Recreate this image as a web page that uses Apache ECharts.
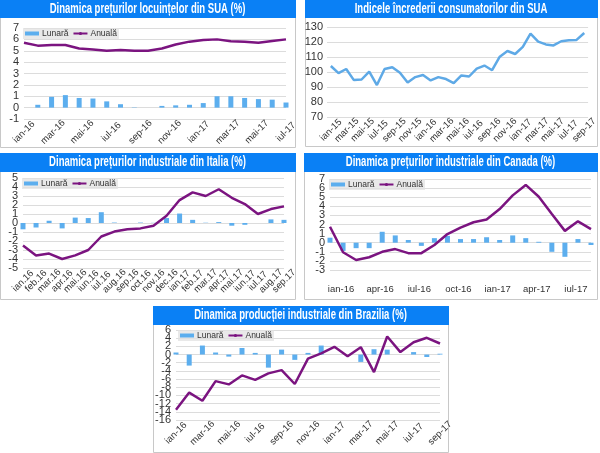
<!DOCTYPE html>
<html>
<head>
<meta charset="utf-8">
<title>Dinamica</title>
<script src="https://cdn.jsdelivr.net/npm/echarts@6/dist/echarts.min.js"></script>
<style>
html,body{margin:0;padding:0;background:#fff;}
#chart{width:600px;height:453px;}
</style>
</head>
<body>
<div id="chart"></div>
<script>
// SUA locuinte
var casePoints = ['ian-16','feb-16','mar-16','apr-16','mai-16','iun-16','iul-16','aug-16','sep-16','oct-16','nov-16','dec-16','ian-17','feb-17','mar-17','apr-17','mai-17','iun-17','iul-17','aug-17'];
var caseTicks = ['ian-16','feb-16','mar-16','apr-16','mai-16','iun-16','iul-16','aug-16','sep-16','oct-16','nov-16','dec-16','ian-17','feb-17','mar-17','apr-17','mai-17','iun-17','iul-17'];
var caseLunara = [0,0.25,0.95,1.1,0.85,0.8,0.55,0.3,0.03,0,0.15,0.2,0.25,0.4,1.0,1.0,0.85,0.75,0.7,0.45];
var caseAnuala = [5.7,5.45,5.5,5.5,5.2,5.1,5.0,5.07,5.0,5.0,5.2,5.55,5.8,5.95,6.0,5.83,5.8,5.7,5.85,6.0];

// SUA incredere
var confPoints = ['ian-15','feb-15','mar-15','apr-15','mai-15','iun-15','iul-15','aug-15','sep-15','oct-15','nov-15','dec-15','ian-16','feb-16','mar-16','apr-16','mai-16','iun-16','iul-16','aug-16','sep-16','oct-16','nov-16','dec-16','ian-17','feb-17','mar-17','apr-17','mai-17','iun-17','iul-17','aug-17','sep-17','oct-17'];
var confTicks = ['ian-15','feb-15','mar-15','apr-15','mai-15','iun-15','iul-15','aug-15','sep-15','oct-15','nov-15','dec-15','ian-16','feb-16','mar-16','apr-16','mai-16','iun-16','iul-16','aug-16','sep-16','oct-16','nov-16','dec-16','ian-17','feb-17','mar-17','apr-17','mai-17','iun-17','iul-17','aug-17','sep-17'];
var confIndice = [104,99.2,102,94.6,95,100.3,91.3,102,103.2,99.5,93,96.6,98,94.4,96.6,95.3,92.6,97.7,97,102.3,104.3,101.2,110.2,114,112,116.8,125.6,120.3,118.4,117.7,120.5,121.2,121.4,126];

// Italia
var itLuni = ['ian.16','feb.16','mar.16','apr.16','mai.16','iun.16','iul.16','aug.16','sep.16','oct.16','nov.16','dec.16','ian.17','feb.17','mar.17','apr.17','mai.17','iun.17','iul.17','aug.17','sep.17'];
var itLunara = [-0.7,-0.5,0.25,-0.6,0.6,0.55,1.2,0.05,0,0.05,0.02,0.55,1.05,0.35,0.03,0.1,-0.3,-0.2,0,0.4,0.35];
var itAnuala = [-2.5,-3.6,-3.4,-4.0,-3.6,-3.0,-1.5,-0.95,-0.7,-0.6,-0.3,0.8,2.55,3.4,3.0,3.75,2.8,2.1,1.0,1.55,1.85];

// Canada si Brazilia au aceleasi luni
var luni = ['ian-16','feb-16','mar-16','apr-16','mai-16','iun-16','iul-16','aug-16','sep-16','oct-16','nov-16','dec-16','ian-17','feb-17','mar-17','apr-17','mai-17','iun-17','iul-17','aug-17','sep-17'];
var caLunara = [0.55,-0.9,-0.6,-0.6,1.2,0.8,0.3,-0.35,0.5,0.75,0.4,0.4,0.6,0.3,0.8,0.5,0.1,-1.0,-1.55,0.4,-0.25];
var caAnuala = [1.75,-1.05,-1.9,-1.6,-1.0,-0.7,-1.15,-1.15,-0.25,0.95,1.65,2.25,2.55,3.7,5.2,6.35,5.05,3.15,1.3,2.35,1.5];

var brLunara = [0.5,-2.7,2.2,0.5,-0.5,1.6,0.4,-3.2,1.2,-1.3,0.4,2.2,0,0,-1.8,1.3,1.2,0,0.6,-0.6,0.2];
var brAnuala = [-13.5,-9.3,-11.3,-6.5,-7.3,-5.1,-6.2,-4.6,-3.8,-7.2,-1,0.3,1.9,-0.4,1.8,-4.3,4.4,0.6,3.0,4.1,2.7];

var panouri = [
  {x:0,y:0,w:295,h:147,bar:18,title:'Dinamica prețurilor locuințelor din SUA (%)',sx:0.68,grid:[24,28,286,119],min:-1,max:7,step:1,legend:[23,28]},
  {x:305,y:0,w:292,h:146,bar:18,title:'Indicele încrederii consumatorilor din SUA',sx:0.68,grid:[327,27,592,117],min:70,max:130,step:10},
  {x:0,y:153,w:295,h:146,bar:19,title:'Dinamica prețurilor industriale din Italia (%)',sx:0.68,grid:[23,178,284,268],min:-5,max:5,step:1,legend:[22,178]},
  {x:304,y:153,w:293,h:146,bar:19,title:'Dinamica prețurilor industriale din Canada (%)',sx:0.68,grid:[330,179,591,270],min:-3,max:7,step:1,legend:[329,179]},
  {x:153,y:306,w:295,h:146,bar:19,title:'Dinamica producției industriale din Brazilia (%)',sx:0.68,grid:[176,330,440,420],min:-16,max:6,step:2,legend:[178,330]}
];

var ALBASTRU = '#5caeee', MOV = '#7b1480', FONT = '"Liberation Sans", Arial, sans-serif';

var graphic = [], grids = [], xAxes = [], yAxes = [], legends = [], series = [];
var axePeste = [];

function axaY(p, i, valori, cuLinii) {
  return {
    type:'value', gridIndex:i, position:'left', min:p.min, max:p.max, interval:p.step,
    axisLine:{show:false}, axisTick:{show:false},
    axisLabel:{customValues:valori,color:'#333',fontFamily:FONT,fontSize:11,margin:i==1?4:5,showMinLabel:true,showMaxLabel:true,hideOverlap:false},
    splitLine:{show:cuLinii,lineStyle:{color:'#dcdcdc',width:1}}
  };
}

panouri.forEach(function (p, i) {
  graphic.push({type:'rect', z:-10, shape:{x:p.x+0.5,y:p.y+0.5,width:p.w,height:p.h}, style:{fill:'#fff',stroke:'#c8c8c8',lineWidth:1}});
  graphic.push({type:'rect', z:-9, shape:{x:p.x,y:p.y,width:p.w+1,height:p.bar}, style:{fill:'#0a80f5'}});
  // titlul e strans pe orizontala, nu exista font narrow instalat
  graphic.push({
    type:'text', z:10, x:p.x+p.w/2, y:p.y+p.bar/2, scaleX:p.sx,
    style:{text:p.title,fill:'#fff',font:'bold 14px "Liberation Sans"',textAlign:'center',textVerticalAlign:'middle'}
  });
  grids.push({left:p.grid[0],top:p.grid[1],width:p.grid[2]-p.grid[0],height:p.grid[3]-p.grid[1]});
  // echarts ascunde eticheta de langa capete cand sunt apropiate,
  // asa ca a doua si penultima merg pe o axa separata
  var vecini = [p.min+p.step, p.max-p.step];
  var restul = [];
  for (var v = p.min; v <= p.max; v += p.step) {
    if (vecini.indexOf(v) < 0) restul.push(v);
  }
  yAxes.push(axaY(p, i, restul, true));
  axePeste.push(axaY(p, i, vecini, false));
  if (p.legend) {
    legends.push({
      left:p.legend[0], top:p.legend[1], padding:[1,2], itemGap:4, itemWidth:14, itemHeight:4,
      backgroundColor:'rgba(225,225,225,0.75)', selectedMode:false, z:8,
      textStyle:{color:'#333',fontFamily:FONT,fontSize:8.5,padding:[0,0,0,-2]},
      data:[{name:'Lunară',icon:'rect'},{name:'Anuală'}]
    });
  }
});
yAxes = yAxes.concat(axePeste);

function labelAxis(gridIndex, cats, opts) {
  return Object.assign({
    type:'category', gridIndex:gridIndex, data:cats, boundaryGap:false, position:'bottom',
    axisLine:{show:false,onZero:false}, axisTick:{show:false}, splitLine:{show:false},
    axisLabel:rotit(1)
  }, opts || {});
}

function rotit(interval) {
  return {interval:interval,rotate:45,align:'center',verticalAlign:'middle',margin:13,color:'#333',fontFamily:FONT,fontSize:9.5,hideOverlap:false};
}

function bara(name, data, ax) {
  return {name:name,type:'bar',xAxisIndex:ax,yAxisIndex:ax,data:data,barWidth:5,itemStyle:{color:ALBASTRU},clip:false,animation:false};
}
function linie(name, data, ax, color) {
  return {name:name,type:'line',xAxisIndex:ax,yAxisIndex:ax,data:data,symbol:'none',lineStyle:{color:color,width:2.5},itemStyle:{color:color},animation:false,z:3};
}

// 0-4 axele de date, 5 si 6 doar etichetele pentru graficele din SUA
xAxes.push(labelAxis(0, casePoints, {axisLabel:{show:false}}));
xAxes.push(labelAxis(1, confPoints, {boundaryGap:true,axisLabel:{show:false}}));
xAxes.push(labelAxis(2, itLuni, {axisLabel:rotit(0)}));
xAxes.push(labelAxis(3, luni, {axisLabel:{interval:2,rotate:0,margin:14,padding:[0,0,0,22],color:'#333',fontFamily:FONT,fontSize:9.5,hideOverlap:false}}));
xAxes.push(labelAxis(4, luni));
xAxes.push(labelAxis(0, caseTicks));
xAxes.push(labelAxis(1, confTicks, {boundaryGap:true}));

series.push(bara('Lunară',caseLunara,0), linie('Anuală',caseAnuala,0,MOV));
series.push(linie('Indice',confIndice,1,'#5ea9e6'));
series.push(bara('Lunară',itLunara,2), linie('Anuală',itAnuala,2,MOV));
series.push(bara('Lunară',caLunara,3), linie('Anuală',caAnuala,3,MOV));
series.push(bara('Lunară',brLunara,4), linie('Anuală',brAnuala,4,MOV));

var myChart = echarts.init(document.getElementById('chart'), null, {renderer:'canvas'});
myChart.setOption({
  animation:false,
  backgroundColor:'#fff',
  color:[ALBASTRU,MOV],
  graphic:graphic,
  grid:grids,
  xAxis:xAxes,
  yAxis:yAxes,
  legend:legends,
  series:series
});
</script>
</body>
</html>
